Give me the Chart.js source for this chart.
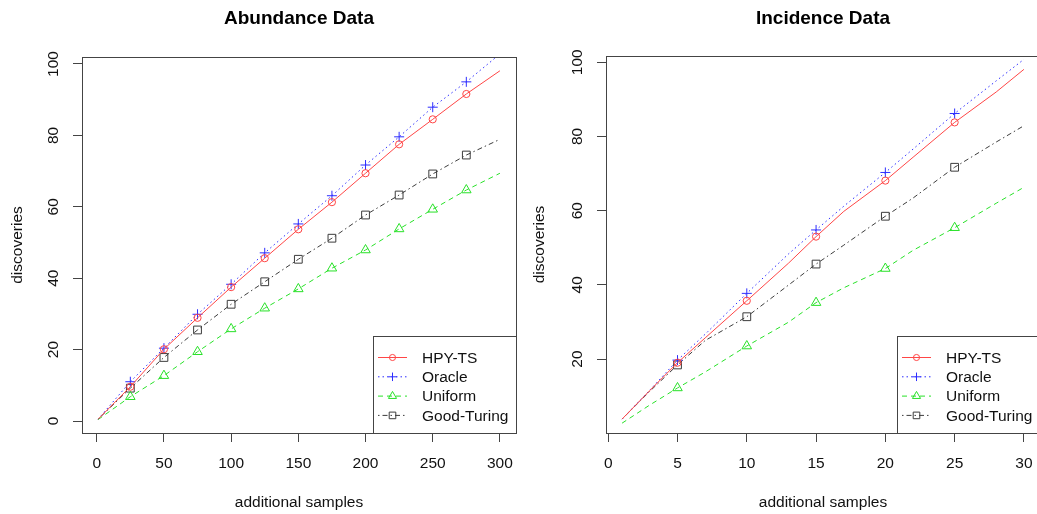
<!DOCTYPE html>
<html>
<head>
<meta charset="utf-8">
<script src="https://cdn.jsdelivr.net/npm/chart.js@4.4.0/dist/chart.umd.min.js"></script>
<style>
  html, body { margin: 0; padding: 0; background: #fff; overflow: hidden; width: 1037px; height: 514px; }
  canvas { position: absolute; top: 0; }
  #abundance { left: 0; }
  #incidence { left: 520px; }
</style>
</head>
<body>
<canvas id="abundance" width="520" height="514"></canvas>
<canvas id="incidence" width="530" height="514"></canvas>
<script>
const FONT = '"Liberation Sans", Arial, Helvetica, sans-serif';
const seriesNames = ['HPY-TS', 'Oracle', 'Uniform', 'Good-Turing'];

// Abundance data (left panel)
const abundanceX = [1, 25, 50, 75, 100, 125, 150, 175, 200, 225, 250, 275, 300];
const abundanceHPY = [0.5, 9.6, 20.1, 28.9, 37.5, 45.6, 53.7, 61.3, 69.4, 77.5, 84.5, 91.6, 98.1];
const abundanceOracle = [0.5, 11.0, 20.4, 29.9, 38.3, 47.1, 55.2, 63.1, 71.7, 79.6, 87.9, 95.0, 102.8];
const abundanceUniform = [0.4, 6.8, 12.7, 19.4, 25.8, 31.6, 37.0, 42.8, 47.9, 53.8, 59.3, 64.7, 69.4];
const abundanceGT = [0.5, 9.2, 17.8, 25.5, 32.7, 39.0, 45.3, 51.2, 57.7, 63.3, 69.2, 74.5, 78.9];
const abundanceMarkX = [25, 50, 75, 100, 125, 150, 175, 200, 225, 250, 275];
const abundanceXTicks = [0, 50, 100, 150, 200, 250, 300];
const abundanceYTicks = [0, 20, 40, 60, 80, 100];

// Incidence data (right panel)
const incidenceX = [1, 3, 5, 7, 10, 13, 15, 17, 20, 22, 25, 28, 30];
const incidenceHPY = [3.8, 11.5, 19.0, 25.7, 35.7, 45.8, 53.0, 59.8, 68.1, 74.4, 83.8, 92.0, 98.1];
const incidenceOracle = [3.8, 11.6, 19.7, 26.7, 37.7, 48.3, 54.8, 61.2, 70.3, 76.6, 86.2, 95.0, 100.8];
const incidenceUniform = [2.7, 7.6, 12.2, 16.5, 23.5, 29.9, 35.2, 39.2, 44.4, 49.3, 55.4, 62.0, 66.3];
const incidenceGT = [3.8, 11.3, 18.4, 25.0, 31.4, 39.9, 45.6, 50.7, 58.5, 63.4, 71.7, 78.5, 82.9];
const incidenceMarkX = [5, 10, 15, 20, 25];
const incidenceXTicks = [0, 5, 10, 15, 20, 25, 30];
const incidenceYTicks = [20, 40, 60, 80, 100];

const looks = [
    { color: 'rgb(255,70,70)', dash: [], point: 'circle', radius: 3.6 },
    { color: 'rgb(45,45,255)', dash: [1.5, 3], point: 'cross', radius: 5 },
    { color: 'rgb(40,225,40)', dash: [5, 4], point: 'triangle', radius: 5.5 },
    { color: 'rgb(60,60,60)', dash: [1.5, 3, 5, 3], point: 'rect', radius: 5.5 }
];
const axisColor = '#444';

// box, rotated y labels and R-style legend
const panelPlugin = {
    id: 'panel',
    afterDraw(chart) {
        const ctx = chart.ctx;
        const a = chart.chartArea;
        const yScale = chart.scales.y;
        ctx.save();
        ctx.strokeStyle = axisColor;
        ctx.lineWidth = 1;
        ctx.strokeRect(Math.round(a.left) + 0.5, Math.round(a.top) + 0.5,
            Math.round(a.right - a.left), Math.round(a.bottom - a.top));

        // y tick labels, parallel to the axis
        ctx.fillStyle = '#111';
        ctx.font = '15.5px ' + FONT;
        ctx.textAlign = 'center';
        ctx.textBaseline = 'middle';
        yScale.ticks.forEach(t => {
            const py = yScale.getPixelForValue(t.value);
            ctx.save();
            ctx.translate(a.left - 28, py);
            ctx.rotate(-Math.PI / 2);
            ctx.fillText(String(t.value), 0, 0);
            ctx.restore();
        });

        // legend
        const lw = 143, lh = 97;
        const lx = Math.round(a.right - lw), ly = Math.round(a.bottom - lh);
        ctx.fillStyle = '#fff';
        ctx.fillRect(lx, ly, lw, lh);
        ctx.strokeStyle = axisColor;
        ctx.strokeRect(lx + 0.5, ly + 0.5, lw, lh);
        chart.data.datasets.forEach((ds, i) => {
            const look = looks[i];
            const cy = ly + 21.5 + i * 19.3;
            ctx.strokeStyle = look.color;
            ctx.setLineDash(look.dash);
            ctx.beginPath();
            ctx.moveTo(lx + 5, cy);
            ctx.lineTo(lx + 34, cy);
            ctx.stroke();
            ctx.setLineDash([]);
            ctx.fillStyle = 'rgba(0,0,0,0)';
            Chart.helpers.drawPoint(ctx, {
                pointStyle: look.point, radius: look.radius * 0.85, borderWidth: 1, rotation: 0
            }, lx + 19.5, cy);
            ctx.fillStyle = '#111';
            ctx.textAlign = 'left';
            ctx.fillText(ds.label, lx + 49, cy + 1);
        });
        ctx.restore();
    }
};

function makePanel(id, title, xs, series, markX, xTicks, yTicks, xRange, yRange, leftWidth, rightPad, titlePad, yTitlePad) {
    const datasets = series.map((vals, i) => ({
        label: seriesNames[i],
        data: xs.map((x, k) => ({ x: x, y: vals[k] })),
        borderColor: looks[i].color,
        borderWidth: 1,
        borderDash: looks[i].dash,
        pointStyle: looks[i].point,
        pointRadius: c => markX.includes(c.raw.x) ? looks[i].radius : 0,
        pointHoverRadius: 0,
        pointBorderWidth: 1,
        pointBorderColor: looks[i].color,
        pointBackgroundColor: 'rgba(0,0,0,0)',
        tension: 0,
        fill: false
    }));
    return new Chart(document.getElementById(id).getContext('2d'), {
        type: 'line',
        data: { datasets: datasets },
        plugins: [panelPlugin],
        options: {
            responsive: false,
            animation: false,
            devicePixelRatio: 1,
            layout: { padding: { left: 0, right: rightPad, top: 0, bottom: 0 } },
            plugins: {
                legend: { display: false },
                tooltip: { enabled: false },
                title: {
                    display: true,
                    text: title,
                    fullSize: false,
                    color: '#000',
                    font: { family: FONT, size: 19, weight: 'bold', lineHeight: 1.2 },
                    padding: titlePad
                }
            },
            scales: {
                x: {
                    type: 'linear',
                    min: xRange[0],
                    max: xRange[1],
                    afterBuildTicks: s => { s.ticks = xTicks.map(v => ({ value: v })); },
                    afterFit: s => { s.height = 81; s.paddingLeft = 0; s.paddingRight = 0; },
                    grid: { drawOnChartArea: false, drawTicks: true, tickLength: 9, color: axisColor },
                    border: { display: false },
                    ticks: { color: '#111', padding: 12, maxRotation: 0, autoSkip: false,
                        font: { family: FONT, size: 15.5 } },
                    title: { display: true, text: 'additional samples', color: '#111',
                        font: { family: FONT, size: 15.5 }, padding: { top: 0, bottom: 2 } }
                },
                y: {
                    type: 'linear',
                    min: yRange[0],
                    max: yRange[1],
                    afterBuildTicks: s => { s.ticks = yTicks.map(v => ({ value: v })); },
                    afterFit: s => { s.width = leftWidth; s.paddingTop = 0; s.paddingBottom = 0; },
                    grid: { drawOnChartArea: false, drawTicks: true, tickLength: 9, color: axisColor },
                    border: { display: false },
                    ticks: { display: false },
                    title: { display: true, text: 'discoveries', color: '#111',
                        font: { family: FONT, size: 15.5 }, padding: { top: yTitlePad, bottom: 0 } }
                }
            }
        }
    });
}

makePanel('abundance', 'Abundance Data', abundanceX,
    [abundanceHPY, abundanceOracle, abundanceUniform, abundanceGT],
    abundanceMarkX, abundanceXTicks, abundanceYTicks,
    [-10.96, 311.96], [-3.36, 101.96], 82, 4, { top: 7.6, bottom: 26.6 }, 8);

makePanel('incidence', 'Incidence Data', incidenceX,
    [incidenceHPY, incidenceOracle, incidenceUniform, incidenceGT],
    incidenceMarkX, incidenceXTicks, incidenceYTicks,
    [-0.16, 31.16], [0.05, 101.7], 86, 10, { top: 7.6, bottom: 25.6 }, 10);
</script>
</body>
</html>
